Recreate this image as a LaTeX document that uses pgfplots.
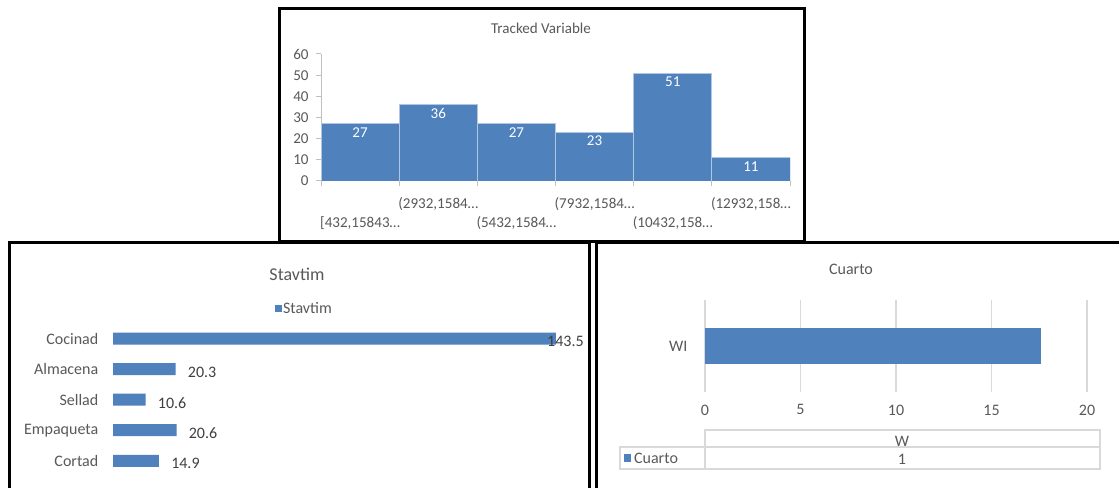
\documentclass[border=0pt]{standalone}
\usepackage{pgfplots}
\usepackage{pgfplotstable}
\pgfplotsset{compat=1.18}
\usepackage{fontspec}
\setmainfont{Carlito}
\definecolor{barblue}{RGB}{79,129,189}
\definecolor{txtgray}{RGB}{89,89,89}
\definecolor{labgray}{RGB}{64,64,64}
\definecolor{gridgray}{RGB}{217,217,217}
\definecolor{axgray}{RGB}{191,191,191}
\newcommand\fa{\fontsize{11.3}{14.25}\selectfont}
\newcommand\fb{\fontsize{12}{14}\selectfont}

\pgfplotstableread{
x y
0.5 27
1.5 36
2.5 27
3.5 23
4.5 51
5.5 11
}\tracked

\pgfplotstableread{
pos val dx
0 14.9 9
1 20.6 9
2 10.6 9
3 20.3 9
4 143.5 -6.75
}\stavtim

\begin{document}
\begin{tikzpicture}[x=0.75pt,y=0.75pt]
\useasboundingbox (0,0) rectangle (1119,-488);
\fill[white] (0,0) rectangle (1119,-488);
\clip (0,0) rectangle (1119,-488);
\coordinate (PA) at (321,-181);
\coordinate (PB) at (113,-476);
\coordinate (PC) at (705,-392);

% ---------- top chart ----------
\node[text=txtgray, font=\fa] at (541,-28) {Tracked Variable};
\begin{axis}[
  at={(PA)}, anchor=south west, scale only axis,
  width=351.75pt, height=95.25pt,
  xmin=0, xmax=6, ymin=0, ymax=60,
  ybar, bar width=1,
  axis x line*=bottom, axis y line*=left,
  axis line style={axgray, line width=0.75pt},
  ytick={0,10,...,60},
  xtick={0.5,1.5,...,5.5},
  minor xtick={0,1,...,6},
  xticklabels={
    {\strut\\{[}432,15843…\strut},
    {(2932,1584…\strut\\\strut},
    {\strut\\(5432,1584…\strut},
    {(7932,1584…\strut\\\strut},
    {\strut\\(10432,158…\strut},
    {(12932,158…\strut\\\strut}},
  xticklabel style={align=center, anchor=north, text=txtgray, font=\fa, inner sep=1pt},
  yticklabel style={text=txtgray, font=\fa},
  tick align=outside,
  tick style={axgray, line width=0.75pt},
  major tick length=3.75pt, minor tick length=3.75pt,
  major x tick style={draw=none},
  yticklabel shift=2pt,
  xticklabel shift=5.5pt,
  /pgf/number format/assume math mode=true,
  nodes near coords,
  every node near coord/.append style={anchor=north, text=white, font=\fa, inner sep=2.5pt},
]
\addplot[fill=barblue, draw=white!55!barblue, line width=0.6pt] table[x=x,y=y] {\tracked};
\end{axis}

% ---------- bottom left chart ----------
\node[text=txtgray, font=\fontsize{13.5}{16}\selectfont] at (297,-274) {Stavtim};
\begin{axis}[
  at={(PB)}, anchor=south west, scale only axis,
  width=347.25pt, height=114.4pt,
  xbar, bar width=9pt,
  xmin=0, xmax=150, ymin=-0.5, ymax=4.5,
  hide x axis,
  axis y line*=left, y axis line style={draw=none}, ytick style={draw=none},
  ytick={0,1,2,3,4},
  yticklabels={Cortad,Empaqueta,Sellad,Almacena,Cocinad},
  yticklabel style={text=txtgray, font=\fb},
  yticklabel shift=3.25pt,
  /pgf/number format/assume math mode=true,
  nodes near coords,
  nodes near coords align={horizontal},
  visualization depends on={\thisrow{dx} \as \dx},
  every node near coord/.append style={anchor=west, xshift=\dx pt, yshift=-2.25pt, inner sep=0pt, text=labgray, font=\fb},
  legend style={draw=none, fill=none, at={(0.4125,1.095)}, anchor=center, font=\fb, text=txtgray, nodes={inner sep=1pt}},
  legend image code/.code={\fill[barblue] (0pt,-2.4pt) rectangle (5.2pt,2.8pt);},
]
\addplot[fill=barblue, draw=none] table[x=val, y=pos] {\stavtim};
\addlegendentry{Stavtim}
\end{axis}

% ---------- bottom right chart ----------
\node[text=txtgray, font=\fb] at (851,-269) {Cuarto};
\begin{axis}[
  at={(PC)}, anchor=south west, scale only axis,
  width=286.5pt, height=69pt,
  xbar, bar width=27pt,
  xmin=0, xmax=20, ymin=-0.5, ymax=0.5,
  xtick={0,5,...,20}, ytick={0}, yticklabels={WI},
  xmajorgrids, grid style={gridgray, line width=1.1pt},
  axis line style={draw=none}, tick style={draw=none},
  xticklabel shift=6pt, yticklabel shift=5.5pt,
  ticklabel style={text=txtgray, font=\fb},
  /pgf/number format/assume math mode=true,
  legend style={draw=none, fill=none, inner sep=0pt, at={(-0.2128,-0.728)}, anchor=west, font=\fb, text=txtgray, nodes={inner ysep=1pt, inner xsep=2pt}},
  legend image code/.code={\fill[barblue] (0pt,-2.2pt) rectangle (5.6pt,3.4pt);},
]
\addplot[fill=barblue, draw=none] coordinates {(17.6,0)};
\addlegendentry{Cuarto}
\end{axis}
% data table lines
\draw[gridgray, line width=1.1pt] (705,-430) rectangle (1100,-447);
\draw[gridgray, line width=1.1pt] (620,-447) rectangle (1100,-469);
\draw[gridgray, line width=1.1pt] (705,-447) -- (705,-469);
\node[text=txtgray, font=\fb, anchor=base] at (902,-446) {W};
\node[text=txtgray, font=\fb] at (902,-459) {1};

% ---------- frames ----------
\draw[black, line width=2.25pt] (279.5,-9) rectangle (804.5,-241);
\draw[black, line width=2.25pt] (9.5,-242) rectangle (589.5,-500);
\draw[black, line width=2.25pt] (596.5,-242) rectangle (1130,-500);
\end{tikzpicture}
\end{document}
